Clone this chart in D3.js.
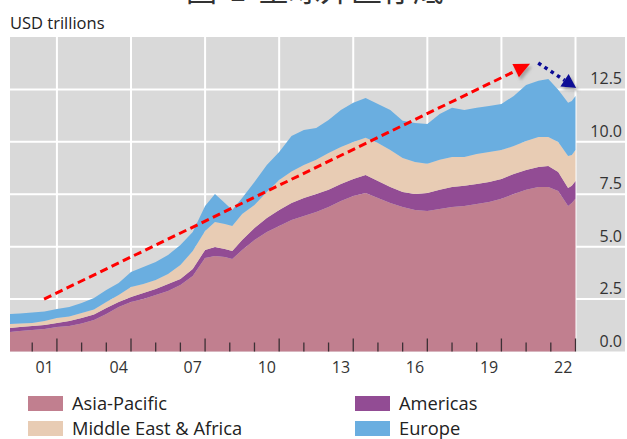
<!DOCTYPE html>
<html>
<head>
<meta charset="utf-8">
<script src="https://cdn.jsdelivr.net/npm/d3@7"></script>
<style>
  html, body { margin: 0; padding: 0; background: #fff; }
  svg { display: block; }
  text { font-family: "Open Sans", "Noto Sans", sans-serif; }
</style>
</head>
<body>
<svg id="chart" width="627" height="439"></svg>
<script>
// ---- data (USD trillions) ----
const dates = [2000.1, 2000.5, 2001.0, 2001.5, 2002.0, 2002.5, 2003.0, 2003.5, 2004.0, 2004.5,
  2005.0, 2005.5, 2006.0, 2006.5, 2007.0, 2007.5, 2008.0, 2008.4, 2008.8, 2009.1,
  2009.5, 2010.0, 2010.5, 2011.0, 2011.5, 2012.0, 2012.5, 2013.0, 2013.5, 2014.0,
  2014.5, 2015.0, 2015.5, 2016.0, 2016.5, 2017.0, 2017.5, 2018.0, 2018.5, 2019.0,
  2019.5, 2020.0, 2020.5, 2021.0, 2021.5, 2021.9, 2022.3, 2022.7, 2022.85, 2023.0];
const asiaPacific = [0.93, 0.98, 1.03, 1.07, 1.17, 1.22, 1.34, 1.50, 1.79, 2.12,
  2.36, 2.50, 2.70, 2.89, 3.17, 3.60, 4.46, 4.56, 4.51, 4.41,
  4.84, 5.32, 5.70, 5.99, 6.27, 6.46, 6.65, 6.89, 7.18, 7.42,
  7.56, 7.32, 7.08, 6.89, 6.75, 6.70, 6.80, 6.89, 6.94, 7.04,
  7.13, 7.28, 7.51, 7.71, 7.85, 7.85, 7.66, 6.94, 7.08, 7.28];
const americas = [0.19, 0.19, 0.19, 0.19, 0.19, 0.24, 0.26, 0.27, 0.29, 0.24,
  0.24, 0.29, 0.28, 0.33, 0.29, 0.34, 0.38, 0.43, 0.38, 0.38,
  0.48, 0.57, 0.67, 0.76, 0.81, 0.86, 0.86, 0.82, 0.81, 0.81,
  0.86, 0.81, 0.77, 0.72, 0.76, 0.86, 0.91, 0.96, 0.96, 0.95,
  0.96, 0.95, 0.96, 0.95, 0.95, 1.00, 0.90, 0.86, 0.82, 0.85];
const middleEastAfrica = [0.19, 0.17, 0.14, 0.20, 0.24, 0.21, 0.24, 0.23, 0.28, 0.34,
  0.48, 0.43, 0.43, 0.48, 0.67, 0.85, 0.91, 1.19, 1.19, 1.20,
  1.24, 1.10, 1.24, 1.43, 1.50, 1.58, 1.63, 1.76, 1.76, 1.76,
  1.77, 1.82, 1.76, 1.62, 1.53, 1.39, 1.43, 1.43, 1.38, 1.43,
  1.43, 1.38, 1.33, 1.38, 1.43, 1.38, 1.43, 1.53, 1.47, 1.48];
const europe = [0.48, 0.47, 0.50, 0.45, 0.43, 0.45, 0.47, 0.55, 0.57, 0.57,
  0.71, 0.81, 0.86, 0.90, 0.95, 0.91, 1.19, 1.33, 1.00, 0.76,
  0.76, 1.10, 1.29, 1.34, 1.70, 1.67, 1.52, 1.57, 1.77, 1.87,
  1.90, 1.86, 1.91, 1.77, 1.86, 1.90, 2.19, 2.34, 2.24, 2.20,
  2.19, 2.20, 2.39, 2.67, 2.68, 2.77, 2.49, 2.53, 2.58, 2.58];

const seriesNames = ["Asia-Pacific", "Americas", "Middle East & Africa", "Europe"];
const seriesColors = ["#c17f8f", "#924c94", "#e8ccb4", "#6aaee0"];
const yTicks = [0, 2.5, 5, 7.5, 10, 12.5];
const yGridValues = [2.5, 5, 7.5, 10, 12.5];
const xLabelYears = [2001, 2004, 2007, 2010, 2013, 2016, 2019, 2022];
const xLabels = ["01", "04", "07", "10", "13", "16", "19", "22"];
const xGridYears = [2002, 2005, 2008, 2011, 2014, 2017, 2020, 2023];
const tickYears = d3.range(2001, 2024);
const titleText = ["圖", "1", "全球外匯存底"];
// annotation arrows in data units [year, value]
const redArrow = [[2001.48, 2.5], [2021.16, 13.72]];
const blueArrow = [[2021.49, 13.76], [2023.03, 12.57]];

// ---- build ----
const svg = d3.select("#chart");
const x = d3.scaleLinear().domain([2000.1, 2023.0]).range([10, 575.5]);
const y = d3.scaleLinear().domain([0, 15]).range([351.5, 37]);

const rows = dates.map((d, i) => ({
  date: d,
  "Asia-Pacific": asiaPacific[i],
  "Americas": americas[i],
  "Middle East & Africa": middleEastAfrica[i],
  "Europe": europe[i]
}));

// title (cropped at the top edge, as in the reference)
const tg = svg.append("g").attr("font-size", 31).attr("fill", "#333");
[[186, 0], [229, 1], [258, 2]].forEach(([tx, i]) => {
  tg.append("text").attr("x", tx).attr("y", 0.5)
    .style("font-family", "'Noto Sans CJK TC', 'Noto Sans CJK SC', sans-serif")
    .text(titleText[i]);
});

// unit label
svg.append("text").attr("x", 10).attr("y", 29).attr("font-size", 16.5).attr("fill", "#222")
  .text("USD trillions");

// background
svg.append("rect").attr("x", 10).attr("y", y(15)).attr("width", 615).attr("height", y(0) - y(15))
  .attr("fill", "#d9d9d9");

// grid
svg.append("g").selectAll("line").data(yGridValues).join("line")
  .attr("x1", 10).attr("x2", 625).attr("y1", d => y(d)).attr("y2", d => y(d))
  .attr("stroke", "#fff").attr("stroke-width", 2);
svg.append("g").selectAll("line").data(xGridYears).join("line")
  .attr("x1", d => x(d)).attr("x2", d => x(d)).attr("y1", y(15)).attr("y2", y(0))
  .attr("stroke", "#fff").attr("stroke-width", 2);

// stacked areas
const stack = d3.stack().keys(seriesNames);
const layers = stack(rows);
const area = d3.area().x(d => x(d.data.date)).y0(d => y(d[0])).y1(d => y(d[1]));
svg.append("g").selectAll("path").data(layers).join("path")
  .attr("d", area).attr("fill", (d, i) => seriesColors[i]);

// ticks
svg.append("g").selectAll("line").data(tickYears).join("line")
  .attr("x1", d => x(d)).attr("x2", d => x(d))
  .attr("y1", d => (xGridYears.includes(d) ? y(0) - 13 : y(0) - 9)).attr("y2", y(0))
  .attr("stroke", "#3c3035").attr("stroke-width", 1.3);

// right axis labels
svg.append("g").selectAll("text").data(yTicks).join("text")
  .attr("x", 622).attr("y", d => y(d) - 5).attr("text-anchor", "end")
  .attr("font-size", 16).attr("fill", "#333")
  .text(d => d.toFixed(1));

// bottom labels
svg.append("g").selectAll("text").data(xLabelYears).join("text")
  .attr("x", d => x(d + 0.5)).attr("y", 373).attr("text-anchor", "middle")
  .attr("font-size", 16).attr("fill", "#333")
  .text((d, i) => xLabels[i]);

// annotation arrows
const defs = svg.append("defs");
const f = defs.append("filter").attr("id", "sh").attr("x", "-50%").attr("y", "-50%")
  .attr("width", "200%").attr("height", "200%");
f.append("feDropShadow").attr("dx", 2).attr("dy", 3).attr("stdDeviation", 1.8)
  .attr("flood-color", "#777").attr("flood-opacity", 0.55);

function drawArrow(pts, color, dash, width, headLen, headHalf) {
  const [x0, y0] = [x(pts[0][0]), y(pts[0][1])];
  const [x1, y1] = [x(pts[1][0]), y(pts[1][1])];
  const len = Math.hypot(x1 - x0, y1 - y0);
  const ux = (x1 - x0) / len, uy = (y1 - y0) / len;
  const bx = x1 - ux * headLen, by = y1 - uy * headLen;
  svg.append("line").attr("x1", x0).attr("y1", y0).attr("x2", bx).attr("y2", by)
    .attr("stroke", color).attr("stroke-width", width).attr("stroke-dasharray", dash);
  const px = -uy, py = ux;
  svg.append("path")
    .attr("d", `M${x1},${y1}L${bx + px * headHalf},${by + py * headHalf}L${bx - px * headHalf},${by - py * headHalf}Z`)
    .attr("fill", color).attr("filter", "url(#sh)");
}
drawArrow(redArrow, "#ff0000", "8,4.5", 3, 16, 7.5);
drawArrow(blueArrow, "#0a0a96", "3.5,4", 3.5, 14, 7.5);

// legend
const legendItems = [
  { name: seriesNames[0], color: seriesColors[0], lx: 28, ly: 396 },
  { name: seriesNames[2], color: seriesColors[2], lx: 28, ly: 421 },
  { name: seriesNames[1], color: seriesColors[1], lx: 355, ly: 396 },
  { name: seriesNames[3], color: seriesColors[3], lx: 355, ly: 421 }
];
const lg = svg.append("g").selectAll("g").data(legendItems).join("g");
lg.append("rect").attr("x", d => d.lx).attr("y", d => d.ly).attr("width", 35).attr("height", 15)
  .attr("fill", d => d.color);
lg.append("text").attr("x", d => d.lx + 44).attr("y", d => d.ly + 14)
  .attr("font-size", 18.3).attr("fill", "#222").text(d => d.name);
</script>
</body>
</html>
